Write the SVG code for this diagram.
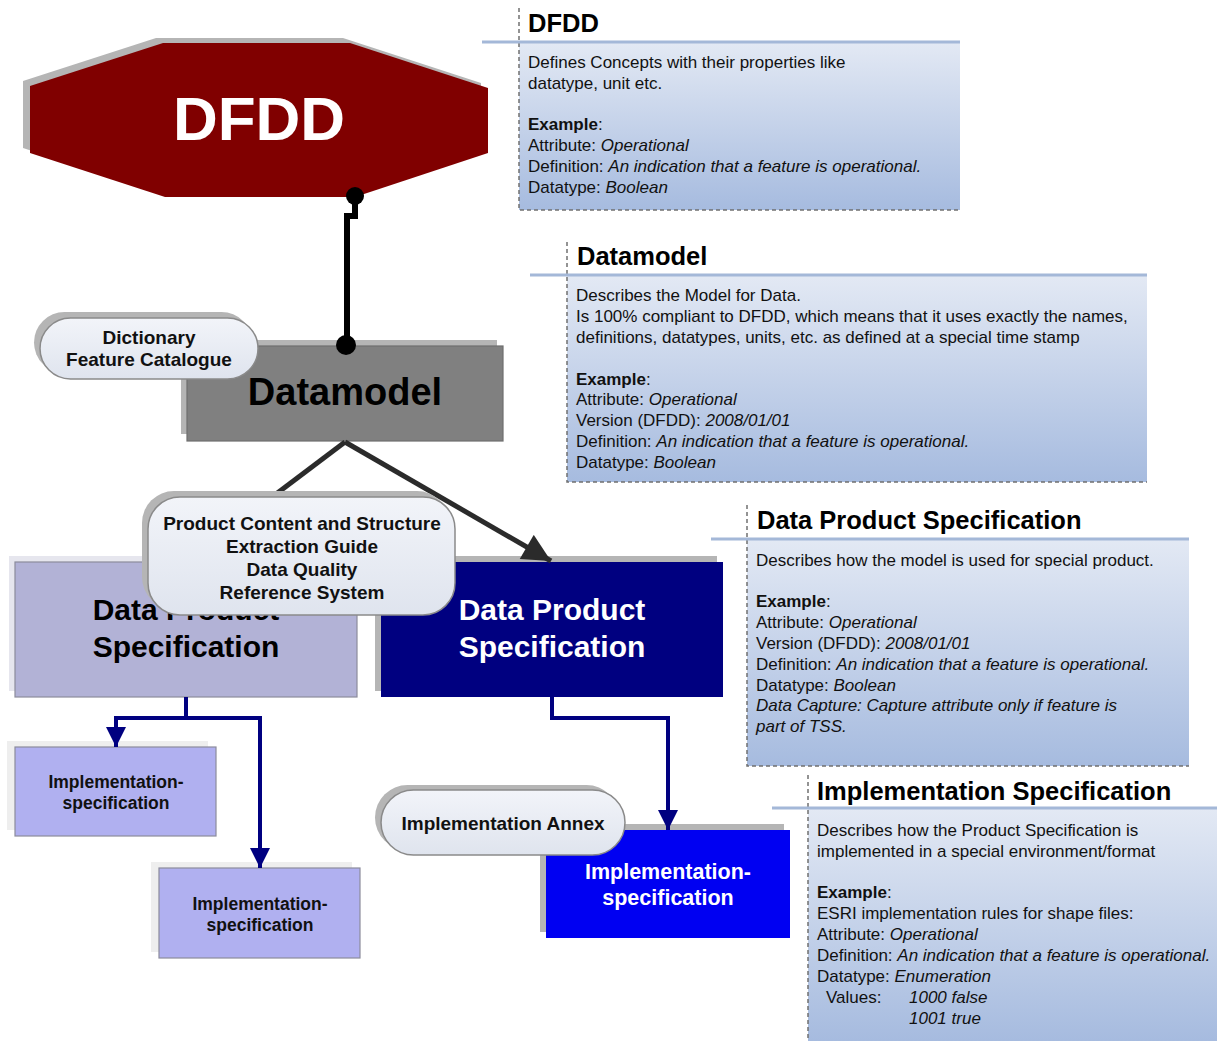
<svg xmlns="http://www.w3.org/2000/svg" width="1217" height="1041" viewBox="0 0 1217 1041">
<defs>
<linearGradient id="cg" x1="0" y1="0" x2="0" y2="1">
<stop offset="0" stop-color="#e3e9f4"/>
<stop offset="1" stop-color="#a6bbdf"/>
</linearGradient>
<linearGradient id="pg" x1="0" y1="0" x2="0" y2="1">
<stop offset="0" stop-color="#f2f4f9"/>
<stop offset="1" stop-color="#dfe4ee"/>
</linearGradient>
<marker id="ah" viewBox="0 0 10 10" refX="10" refY="5" markerWidth="6" markerHeight="5.6" markerUnits="strokeWidth" orient="auto">
<path d="M0,0 L10,5 L0,10 z" fill="#2b2b2b"/>
</marker>
<marker id="nh" viewBox="0 0 10 10" refX="10" refY="5" markerWidth="7" markerHeight="5" markerUnits="strokeWidth" orient="auto">
<path d="M0,0 L10,5 L0,10 z" fill="#000080"/>
</marker>
</defs>
<style>
text{font-family:"Liberation Sans",Arial,sans-serif}
.body{font-size:17px;fill:#111}
.title{font-size:25.5px;font-weight:bold;fill:#000}
.it{font-style:italic}
.b{font-weight:bold}
.dash{stroke:#707070;stroke-width:1.5;stroke-dasharray:4 3;fill:none}
.hl{stroke:#a4b8d8;stroke-width:3}
.sh{fill:#b5b5b5}
.pill{fill:url(#pg);stroke:#8a8a8a;stroke-width:1.5}
.pt{font-size:19px;font-weight:bold;fill:#111;text-anchor:middle}
.box{stroke:#8c8c9c;stroke-width:1.2}
</style>
<rect width="1217" height="1041" fill="#ffffff"/>

<!-- Callouts -->
<g id="callout-dfdd">
<rect x="519" y="42" width="441" height="168" fill="url(#cg)"/>
<path class="dash" d="M519,8 V210 H960"/>
<line class="hl" x1="482" y1="42" x2="960" y2="42"/>
<text class="title" x="528" y="32">DFDD</text>
<text class="body" x="528" y="68">Defines Concepts with their properties like</text>
<text class="body" x="528" y="89">datatype, unit etc.</text>
<text class="body" x="528" y="130"><tspan class="b">Example</tspan>:</text>
<text class="body" x="528" y="151">Attribute: <tspan class="it">Operational</tspan></text>
<text class="body" x="528" y="172">Definition: <tspan class="it">An indication that a feature is operational.</tspan></text>
<text class="body" x="528" y="193">Datatype: <tspan class="it">Boolean</tspan></text>
</g>

<g id="callout-datamodel">
<rect x="567" y="275" width="580" height="207" fill="url(#cg)"/>
<path class="dash" d="M567,242 V482 H1147"/>
<line class="hl" x1="530" y1="275" x2="1147" y2="275"/>
<text class="title" x="577" y="265">Datamodel</text>
<text class="body" x="576" y="301">Describes the Model for Data.</text>
<text class="body" x="576" y="322">Is 100% compliant to DFDD, which means that it uses exactly the names,</text>
<text class="body" x="576" y="343">definitions, datatypes, units, etc. as defined at a special time stamp</text>
<text class="body" x="576" y="385"><tspan class="b">Example</tspan>:</text>
<text class="body" x="576" y="405">Attribute: <tspan class="it">Operational</tspan></text>
<text class="body" x="576" y="426">Version (DFDD): <tspan class="it">2008/01/01</tspan></text>
<text class="body" x="576" y="447">Definition: <tspan class="it">An indication that a feature is operational.</tspan></text>
<text class="body" x="576" y="468">Datatype: <tspan class="it">Boolean</tspan></text>
</g>

<g id="callout-dps">
<rect x="747" y="539" width="442" height="227" fill="url(#cg)"/>
<path class="dash" d="M747,505 V766 H1189"/>
<line class="hl" x1="711" y1="539" x2="1189" y2="539"/>
<text class="title" x="757" y="529">Data Product Specification</text>
<text class="body" x="756" y="566">Describes how the model is used for special product.</text>
<text class="body" x="756" y="607"><tspan class="b">Example</tspan>:</text>
<text class="body" x="756" y="628">Attribute: <tspan class="it">Operational</tspan></text>
<text class="body" x="756" y="649">Version (DFDD): <tspan class="it">2008/01/01</tspan></text>
<text class="body" x="756" y="670">Definition: <tspan class="it">An indication that a feature is operational.</tspan></text>
<text class="body" x="756" y="691">Datatype: <tspan class="it">Boolean</tspan></text>
<text class="body it" x="756" y="711">Data Capture: Capture attribute only if feature is</text>
<text class="body it" x="756" y="732">part of TSS.</text>
</g>

<g id="callout-impl">
<rect x="808" y="808" width="409" height="233" fill="url(#cg)"/>
<path class="dash" d="M808,775 V1041"/>
<line class="hl" x1="772" y1="808" x2="1217" y2="808"/>
<text class="title" x="817" y="800">Implementation Specification</text>
<text class="body" x="817" y="836">Describes how the Product Specification is</text>
<text class="body" x="817" y="857">implemented in a special environment/format</text>
<text class="body" x="817" y="898"><tspan class="b">Example</tspan>:</text>
<text class="body" x="817" y="919">ESRI implementation rules for shape files:</text>
<text class="body" x="817" y="940">Attribute: <tspan class="it">Operational</tspan></text>
<text class="body" x="817" y="961">Definition: <tspan class="it">An indication that a feature is operational.</tspan></text>
<text class="body" x="817" y="982">Datatype: <tspan class="it">Enumeration</tspan></text>
<text class="body" x="826" y="1003">Values:</text>
<text class="body it" x="909" y="1003">1000 false</text>
<text class="body it" x="909" y="1024">1001 true</text>
</g>

<!-- Main nodes -->
<g id="node-dfdd">
<polygon class="sh" points="156,38 343,38 481,83 481,148 348,192 158,192 23,148 23,81"/>
<polygon fill="#800000" points="163,43 350,43 488,88 488,153 355,197 165,197 30,153 30,86"/>
<text x="259" y="140" font-size="62" font-weight="bold" fill="#ffffff" text-anchor="middle">DFDD</text>
</g>

<g id="node-datamodel">
<rect class="sh" x="181" y="340" width="316" height="94"/>
<rect x="187" y="346" width="316" height="95" fill="#808080" stroke="#6e6e6e" stroke-width="1.2"/>
<text x="345" y="405" font-size="38" font-weight="bold" fill="#000" text-anchor="middle">Datamodel</text>
</g>

<g id="node-dps-light">
<rect x="9" y="556" width="342" height="135" fill="#e6e6ee"/>
<rect class="box" x="15" y="562" width="342" height="135" fill="#b2b2d6"/>
<text x="186" y="620" font-size="30" font-weight="bold" fill="#000" text-anchor="middle">Data Product</text>
<text x="186" y="657" font-size="30" font-weight="bold" fill="#000" text-anchor="middle">Specification</text>
</g>

<g id="node-dps-dark">
<rect class="sh" x="375" y="556" width="342" height="135"/>
<rect x="381" y="562" width="342" height="135" fill="#000080"/>
<text x="552" y="620" font-size="30" font-weight="bold" fill="#fff" text-anchor="middle">Data Product</text>
<text x="552" y="657" font-size="30" font-weight="bold" fill="#fff" text-anchor="middle">Specification</text>
</g>

<g id="node-impl-1">
<rect x="7" y="741" width="201" height="89" fill="#eeeeee"/>
<rect class="box" x="15" y="747" width="201" height="89" fill="#b0b0f0"/>
<text x="116" y="788" font-size="17.5" font-weight="bold" fill="#111" text-anchor="middle">Implementation-</text>
<text x="116" y="809" font-size="17.5" font-weight="bold" fill="#111" text-anchor="middle">specification</text>
</g>

<g id="node-impl-2">
<rect x="151" y="862" width="201" height="90" fill="#eeeeee"/>
<rect class="box" x="159" y="868" width="201" height="90" fill="#b0b0f0"/>
<text x="260" y="910" font-size="17.5" font-weight="bold" fill="#111" text-anchor="middle">Implementation-</text>
<text x="260" y="931" font-size="17.5" font-weight="bold" fill="#111" text-anchor="middle">specification</text>
</g>

<g id="node-impl-dark">
<rect class="sh" x="540" y="824" width="244" height="108"/>
<rect x="546" y="830" width="244" height="108" fill="#0000f2"/>
<text x="668" y="879" font-size="21.5" font-weight="bold" fill="#fff" text-anchor="middle">Implementation-</text>
<text x="668" y="905" font-size="21.5" font-weight="bold" fill="#fff" text-anchor="middle">specification</text>
</g>

<!-- Connectors -->
<g id="connectors" fill="none">
<path d="M355,197 V216 H347 V345" stroke="#000" stroke-width="6"/>
<circle cx="355" cy="196" r="9" fill="#000"/>
<circle cx="346" cy="345" r="10" fill="#000"/>
<path d="M345,442 L186,562" stroke="#2b2b2b" stroke-width="5"/>
<path d="M345,442 L551,561" stroke="#2b2b2b" stroke-width="5" marker-end="url(#ah)"/>
<path d="M186,697 V718 H116 V747" stroke="#000080" stroke-width="4" marker-end="url(#nh)"/>
<path d="M186,718 H260 V868" stroke="#000080" stroke-width="4" marker-end="url(#nh)"/>
<path d="M552,697 V718 H668 V830" stroke="#000080" stroke-width="4" marker-end="url(#nh)"/>
</g>

<!-- Pill labels -->
<g id="label-dictionary">
<rect class="sh" x="34" y="312" width="218" height="61" rx="30.5"/>
<rect class="pill" x="40" y="318" width="218" height="61" rx="30.5"/>
<text class="pt" x="149" y="344">Dictionary</text>
<text class="pt" x="149" y="366">Feature Catalogue</text>
</g>

<g id="label-product-content">
<rect class="sh" x="142" y="491" width="307" height="118" rx="32"/>
<rect class="pill" x="148" y="497" width="307" height="118" rx="32"/>
<text class="pt" x="302" y="530">Product Content and Structure</text>
<text class="pt" x="302" y="553">Extraction Guide</text>
<text class="pt" x="302" y="576">Data Quality</text>
<text class="pt" x="302" y="599">Reference System</text>
</g>

<g id="label-impl-annex">
<rect class="sh" x="375" y="785" width="244" height="65" rx="32.5"/>
<rect class="pill" x="381" y="790" width="244" height="65" rx="32.5"/>
<text class="pt" x="503" y="830">Implementation Annex</text>
</g>
</svg>
